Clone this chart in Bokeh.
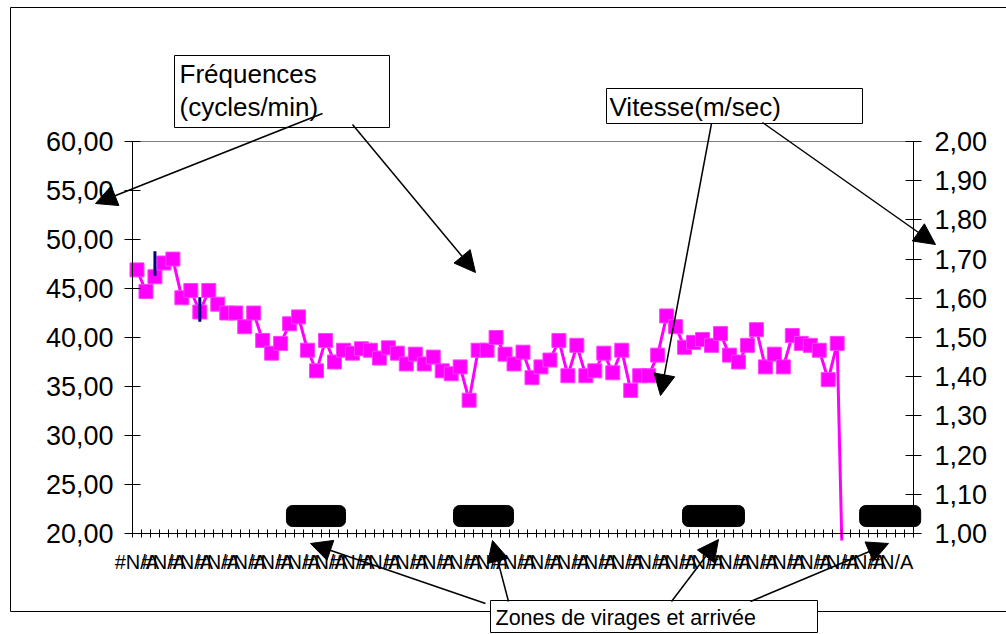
from bokeh.plotting import figure
from bokeh.models import (Range1d, LinearAxis, FixedTicker,
                          BoxAnnotation, Label, Arrow, NormalHead, ColumnDataSource)
from bokeh.embed import file_html
from bokeh.resources import INLINE

# ---------------- data ----------------
freq = [46.9, 44.7, 46.2, 47.6, 48.0, 44.05, 44.8, 42.6, 44.8, 43.4,
        42.5, 42.5, 41.1, 42.5, 39.7, 38.4, 39.4, 41.4, 42.1, 38.7,
        36.6, 39.7, 37.5, 38.7, 38.4, 38.85, 38.7, 37.9, 38.95, 38.4,
        37.3, 38.3, 37.3, 38.0, 36.6, 36.3, 37.0, 33.6, 38.7, 38.7,
        40.0, 38.3, 37.3, 38.5, 35.9, 37.0, 37.7, 39.7, 36.1, 39.2,
        36.1, 36.6, 38.4, 36.4, 38.7, 34.6, 36.1, 36.1, 38.2, 42.2,
        41.1, 39.0, 39.5, 39.8, 39.2, 40.4, 38.2, 37.5, 39.2, 40.8,
        37.0, 38.3, 37.0, 40.2, 39.4, 39.2, 38.7, 35.7, 39.4, 0.0]
n_categories = 87
x_label_step = 3
x_tick_labels = ["#N/A"] * 29
y_left_ticks = [20, 25, 30, 35, 40, 45, 50, 55, 60]
y_left_labels = ["20,00", "25,00", "30,00", "35,00", "40,00", "45,00", "50,00", "55,00", "60,00"]
y_right_ticks = [1.0, 1.1, 1.2, 1.3, 1.4, 1.5, 1.6, 1.7, 1.8, 1.9, 2.0]
y_right_labels = ["1,00", "1,10", "1,20", "1,30", "1,40", "1,50", "1,60", "1,70", "1,80", "1,90", "2,00"]
bar_index = [2, 7]
bar_low = [46.3, 41.6]
bar_high = [48.8, 44.1]
zone_start = [17.15, 35.76, 61.27, 81.0]
zone_end = [23.73, 42.44, 68.17, 87.8]
zone_low = [20.71, 20.71, 20.71, 20.71]
zone_high = [22.86, 22.86, 22.86, 22.86]

FONT = "Liberation Sans"
W, H = 1006, 634

# plot area on the page: x 132..913, y 141..533
PA_L, PA_R, PA_T, PA_B = 132, 913, 141, 533
PX_PER_CAT = (PA_R - PA_L) / n_categories
PX_PER_UNIT = (PA_B - PA_T) / (y_left_ticks[-1] - y_left_ticks[0])

def X(px):
    return (px - PA_L) / PX_PER_CAT

def Y(py):
    return y_left_ticks[0] + (PA_B - py) / PX_PER_UNIT

def Y2(py):
    v = Y(py)
    return y_right_ticks[0] + (v - y_left_ticks[0]) * (y_right_ticks[-1] - y_right_ticks[0]) / (y_left_ticks[-1] - y_left_ticks[0])

p = figure(width=W, height=H, x_range=Range1d(X(0), X(W)), y_range=Range1d(Y(H), Y(0)),
           output_backend="svg", toolbar_location=None, title=None,
           x_axis_location=None, y_axis_location=None,
           min_border=0, min_border_left=0, min_border_right=0,
           min_border_top=0, min_border_bottom=0)
p.xgrid.visible = False
p.ygrid.visible = False
p.outline_line_color = None
p.background_fill_color = "white"
p.border_fill_color = "white"
p.extra_y_ranges = {"vitesse": Range1d(Y2(H), Y2(0))}

# plot-area border (grey)
p.add_layout(BoxAnnotation(left=0, right=n_categories, bottom=y_left_ticks[0], top=y_left_ticks[-1],
                           fill_alpha=0, line_color="#808080", line_alpha=1, line_width=1,
                           level="underlay"))

# series
src = ColumnDataSource(dict(x=[i + 0.5 for i in range(len(freq))], y=freq))
p.line("x", "y", source=src, line_color="#FF00FF", line_width=3)
p.scatter("x", "y", source=src, marker="square", size=14,
          fill_color="#FF00FF", line_color="#FF40FF", line_width=1)
p.segment(x0=[i + 0.5 for i in bar_index], y0=bar_low,
          x1=[i + 0.5 for i in bar_index], y1=bar_high,
          line_color="#000080", line_width=3)

# clip the series below the category axis (plot-area clipping)
p.quad(left=[X(PA_L - 20)], right=[X(PA_R + 20)], bottom=[Y(H + 10)], top=[Y(PA_B + 7)],
       fill_color="white", line_color=None)

# zones
for s, e, lo, hi in zip(zone_start, zone_end, zone_low, zone_high):
    p.add_layout(BoxAnnotation(left=s, right=e, bottom=lo, top=hi,
                               fill_color="black", fill_alpha=1, line_color="black",
                               line_alpha=1, border_radius=6))

# x axis
x_ticks = [i + 0.5 for i in range(0, len(x_tick_labels) * x_label_step, x_label_step)]
xa = LinearAxis(fixed_location=y_left_ticks[0], bounds=(0, n_categories),
                ticker=FixedTicker(ticks=x_ticks, minor_ticks=list(range(n_categories + 1))))
xa.major_label_overrides = {t: lab for t, lab in zip(x_ticks, x_tick_labels)}
xa.major_tick_in = 0
xa.major_tick_out = 0
xa.minor_tick_in = 4
xa.minor_tick_out = 4
xa.minor_tick_line_color = "black"
xa.axis_line_color = "black"
xa.major_label_text_font = FONT
xa.major_label_text_font_size = "20px"
xa.major_label_text_color = "black"
xa.major_label_standoff = 13
p.add_layout(xa, "below")

# left axis
ya = LinearAxis(fixed_location=0, bounds=(y_left_ticks[0], y_left_ticks[-1]),
                ticker=FixedTicker(ticks=y_left_ticks))
ya.major_label_overrides = {t: lab for t, lab in zip(y_left_ticks, y_left_labels)}
ya.major_tick_in = 8
ya.major_tick_out = 8
ya.minor_tick_in = 0
ya.minor_tick_out = 0
ya.axis_line_color = "black"
ya.major_tick_line_color = "black"
ya.major_label_text_font = FONT
ya.major_label_text_font_size = "27px"
ya.major_label_text_color = "black"
ya.major_label_standoff = 11
p.add_layout(ya, "left")

# right axis
ra = LinearAxis(y_range_name="vitesse", fixed_location=n_categories,
                bounds=(y_right_ticks[0], y_right_ticks[-1]),
                ticker=FixedTicker(ticks=y_right_ticks))
ra.major_label_overrides = {t: lab for t, lab in zip(y_right_ticks, y_right_labels)}
ra.major_tick_in = 8
ra.major_tick_out = 8
ra.minor_tick_in = 0
ra.minor_tick_out = 0
ra.axis_line_color = "black"
ra.major_tick_line_color = "black"
ra.major_label_text_font = FONT
ra.major_label_text_font_size = "27px"
ra.major_label_text_color = "black"
ra.major_label_standoff = 13
p.add_layout(ra, "right")

# outer chart border
p.add_layout(BoxAnnotation(left=X(10), right=X(W + 20), top=Y(7), bottom=Y(611),
                           fill_alpha=0, line_color="black", line_alpha=1, line_width=1))

# annotation boxes
for l, r, t, b in [(174, 389, 55, 127), (606, 862, 88, 123), (490, 817, 600, 632)]:
    p.add_layout(BoxAnnotation(left=X(l), right=X(r), top=Y(t), bottom=Y(b),
                               fill_color="white", fill_alpha=1, line_color="black",
                               line_alpha=1, line_width=1))

def lab(px, py, txt, size):
    p.add_layout(Label(x=X(px), y=Y(py), text=txt, text_font=FONT, text_font_size=size,
                       text_color="black", text_align="left", text_baseline="alphabetic"))

lab(179, 73, "Fréquences", "26px")
lab(179, 106, "(cycles/min)", "26px")
lab(609, 106, "Vitesse(m/sec)", "26px")
lab(495, 617, "Zones de virages et arrivée", "21.5px")

for (x0, y0, x1, y1) in [(322, 113, 95, 203), (352, 124, 475, 272),
                         (711, 123, 660, 395), (762, 122, 935, 244),
                         (485, 603, 310, 543), (508, 601, 492, 540),
                         (671, 601, 718, 539), (750, 601, 888, 543)]:
    p.add_layout(Arrow(x_start=X(x0), y_start=Y(y0), x_end=X(x1), y_end=Y(y1),
                       line_color="black", line_width=1.5,
                       end=NormalHead(size=21, fill_color="black", line_color="black")))

open("out.html", "w").write(file_html(p, INLINE))
